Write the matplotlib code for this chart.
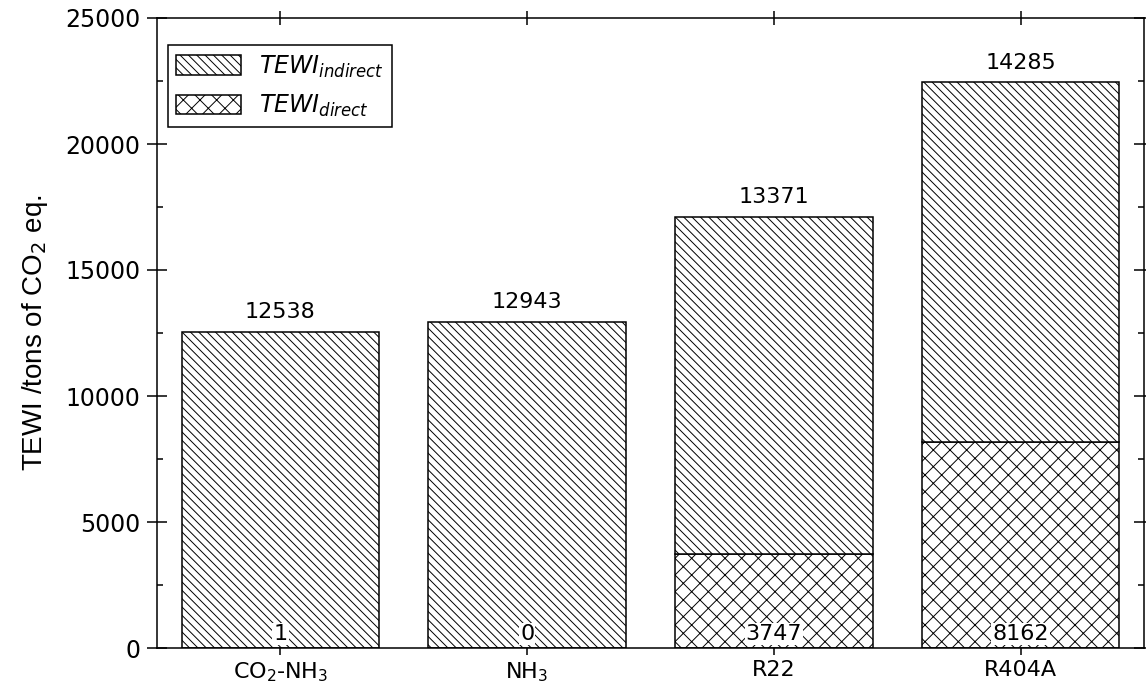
import matplotlib
matplotlib.use("Agg")
import matplotlib.pyplot as plt
from matplotlib.ticker import MultipleLocator
from matplotlib.patches import Patch
import numpy as np

# Refrigerant systems and their TEWI contributions (tons of CO2 eq.)
categories = ["CO$_2$-NH$_3$", "NH$_3$", "R22", "R404A"]
tewi_direct = [1, 0, 3747, 8162]
tewi_indirect = [12538, 12943, 13371, 14285]

plt.rcParams["font.family"] = ["DejaVu Sans"]
plt.rcParams["hatch.linewidth"] = 0.7
plt.rcParams["hatch.color"] = "black"

HATCH_INDIRECT = "\\\\\\\\"
HATCH_DIRECT = "xx"

fig = plt.figure(figsize=(11.46, 6.88), dpi=100)
ax = fig.add_axes([157 / 1146, 40 / 688, 987 / 1146, 630 / 688])

x = np.arange(len(categories))
width = 0.8

ax.bar(x, tewi_direct, width, facecolor="white", edgecolor="black",
       linewidth=1.1, hatch=HATCH_DIRECT, zorder=2)
ax.bar(x, tewi_indirect, width, bottom=tewi_direct, facecolor="white",
       edgecolor="black", linewidth=1.1, hatch=HATCH_INDIRECT, zorder=2)

# Indirect contribution above each bar, direct contribution at its base
for xi, d, ind in zip(x, tewi_direct, tewi_indirect):
    ax.annotate(f"{ind}", xy=(xi, d + ind), xytext=(0, 7), textcoords="offset points",
                ha="center", va="bottom", fontsize=16, zorder=4)
    ax.annotate(f"{d}", xy=(xi, 0), xytext=(0, 3), textcoords="offset points",
                ha="center", va="bottom", fontsize=16, zorder=4,
                bbox=dict(boxstyle="square,pad=0.05", facecolor="white", edgecolor="none"))

ax.set_xlim(-0.5, 3.5)
ax.set_ylim(0, 25000)
ax.set_xticks(x)
ax.set_xticklabels(categories, fontsize=16)
ax.yaxis.set_major_locator(MultipleLocator(5000))
ax.yaxis.set_minor_locator(MultipleLocator(2500))

ax.tick_params(axis="y", which="major", direction="inout", length=14, width=1.1,
               labelsize=17, pad=5, left=True, right=True)
ax.tick_params(axis="y", which="minor", direction="in", length=4, width=1.1,
               left=True, right=True)
ax.tick_params(axis="x", which="major", direction="inout", length=10, width=1.1,
               pad=4, top=True, bottom=True)

for spine in ax.spines.values():
    spine.set_linewidth(1.1)

ax.set_ylabel("TEWI /tons of CO$_2$ eq.", fontsize=20,
              family=["Liberation Sans", "DejaVu Sans"])
ax.yaxis.set_label_coords(-0.108, 0.5)

handles = [
    Patch(facecolor="white", edgecolor="black", hatch=HATCH_INDIRECT, linewidth=1.1),
    Patch(facecolor="white", edgecolor="black", hatch=HATCH_DIRECT, linewidth=1.1),
]
labels = [r"$TEWI_{indirect}$", r"$TEWI_{direct}$"]
leg = ax.legend(handles, labels, loc="upper left", bbox_to_anchor=(0.011, 0.957),
                borderaxespad=0, fontsize=17, handlelength=2.75, handleheight=0.9,
                handletextpad=0.75, labelspacing=0.55, borderpad=0.35,
                fancybox=False, framealpha=1, edgecolor="black")
leg.get_frame().set_linewidth(1.1)

fig.savefig("out.png", dpi=100)
